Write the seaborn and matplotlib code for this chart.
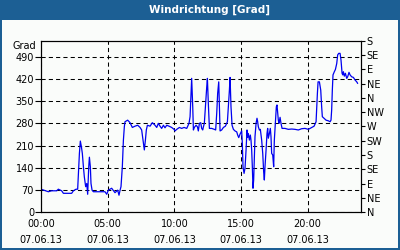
import matplotlib
matplotlib.use("Agg")
import matplotlib.pyplot as plt
import seaborn as sns
import pandas as pd
from matplotlib.patches import Rectangle
from matplotlib.ticker import MultipleLocator

sns.set_style("white")
plt.rcParams['font.family'] = ['DejaVu Sans']

# ---- data (hours since 00:00 on 07.06.13, wind direction in degrees) ----
hours_a = [0.0, 0.55, 0.8, 1.18, 1.3, 1.55, 1.68, 2.3, 2.43, 2.63, 2.75, 2.88, 2.95, 3.03, 3.1,
           3.18, 3.25, 3.35, 3.43, 3.5, 3.58, 3.63, 3.7, 3.75, 3.83, 3.93, 4.43, 4.8, 4.93]
dir_a = [72, 64, 67, 67, 72, 67, 59, 59, 67, 72, 72, 185, 224, 206, 185,
         143, 111, 80, 90, 56, 143, 173, 143, 90, 69, 64, 64, 64, 56]

hours_b = [5.05, 5.3, 5.55, 5.75, 5.85, 5.93, 6.0, 6.1, 6.18, 6.25, 6.3, 6.5, 6.68, 6.85, 7.05,
           7.25, 7.43, 7.55, 7.65, 7.75, 7.83, 7.9, 7.98, 8.18, 8.35, 8.55, 8.68, 8.8, 8.93, 9.05,
           9.18, 9.3, 9.43, 9.6, 9.8, 9.98]
dir_b = [69, 75, 61, 69, 53, 69, 80, 143, 227, 269, 285, 290, 282, 267, 271,
         274, 267, 259, 227, 196, 227, 259, 274, 271, 282, 274, 267, 280, 271, 264,
         274, 266, 274, 271, 267, 261]

hours_c = [10.05, 10.18, 10.38, 10.55, 10.73, 10.93, 11.1, 11.18, 11.25, 11.3, 11.38, 11.43, 11.5,
           11.63, 11.73, 11.8, 11.88, 11.98, 12.05, 12.13, 12.18, 12.25, 12.33, 12.43, 12.48, 12.55,
           12.63, 12.8, 13.0, 13.1, 13.18, 13.25, 13.33, 13.38, 13.43, 13.55, 13.68, 13.83, 13.98,
           14.05, 14.13, 14.18, 14.25, 14.33, 14.43, 14.55, 14.68, 14.75, 14.83, 14.93]
dir_c = [256, 261, 267, 264, 267, 264, 280, 301, 375, 422, 332, 259, 267,
         274, 269, 256, 280, 282, 264, 259, 269, 280, 332, 395, 422, 343,
         264, 264, 261, 259, 312, 375, 411, 332, 256, 259, 267, 271, 285,
         332, 385, 425, 332, 274, 261, 256, 253, 243, 235, 246]

hours_d = [15.05, 15.1, 15.15, 15.23, 15.3, 15.38, 15.45, 15.5, 15.55, 15.63, 15.7, 15.75, 15.8,
           15.85, 15.9, 15.95, 16.0, 16.05, 16.13, 16.2, 16.25, 16.3, 16.38, 16.45, 16.55, 16.63,
           16.7, 16.75, 16.8, 16.88, 16.95, 17.0, 17.05, 17.13, 17.2, 17.25, 17.3, 17.38, 17.45,
           17.5, 17.55, 17.6, 17.65, 17.7, 17.75, 17.8, 17.85, 17.93, 18.0, 18.08, 18.3, 18.55,
           18.8, 19.05, 19.3, 19.55, 19.8]
dir_d = [256, 217, 143, 122, 138, 196, 259, 236, 248, 227, 243, 227, 196,
         143, 75, 101, 175, 238, 280, 296, 285, 269, 259, 261, 227, 185,
         127, 101, 143, 196, 248, 264, 233, 248, 264, 238, 185, 180, 143,
         227, 261, 290, 332, 338, 312, 290, 280, 299, 280, 264, 264, 261,
         262, 261, 259, 263, 264]

hours_e = [20.05, 20.3, 20.48, 20.63, 20.68, 20.73, 20.78, 20.88, 20.98, 21.05, 21.1, 21.23, 21.38,
           21.55, 21.68, 21.75, 21.8, 21.85, 21.9, 22.0, 22.08, 22.18, 22.25, 22.33, 22.43, 22.5,
           22.58, 22.63, 22.68, 22.75, 22.83, 22.93, 23.0, 23.1, 23.18, 23.3, 23.43, 23.55, 23.68,
           23.75]
dir_e = [261, 267, 271, 285, 332, 375, 411, 411, 385, 332, 301, 296, 290,
         288, 285, 290, 322, 385, 433, 443, 450, 469, 496, 501, 501, 480,
         438, 433, 443, 429, 438, 422, 427, 441, 433, 427, 425, 417, 411,
         406]

x_ticks = [0, 5, 10, 15, 20]
x_tick_times = ["00:00", "05:00", "10:00", "15:00", "20:00"]
date_label = "07.06.13"
left_ticks = [0, 70, 140, 210, 280, 350, 420, 490]
right_ticks = [0, 45, 90, 135, 180, 225, 270, 315, 360, 405, 450, 495, 540]
compass = ["N", "NE", "E", "SE", "S", "SW", "W", "NW", "N", "NE", "E", "SE", "S"]
title = "Windrichtung [Grad]"
unit = "Grad"

hours = hours_a + hours_b + hours_c + hours_d + hours_e
wind_dir = dir_a + dir_b + dir_c + dir_d + dir_e
df = pd.DataFrame({"hour": hours, "dir": wind_dir})

# ---- figure ----
W, H = 400, 250
blue = '#1c5f94'
bg = '#fafcfa'
fig = plt.figure(figsize=(W / 100, H / 100), dpi=100, facecolor=blue)
fig.patches.append(Rectangle((2 / W, 2 / H), 396 / W, 228 / H, transform=fig.transFigure,
                             facecolor=bg, edgecolor='none', zorder=-10))
fig.text(209.5 / W, 1 - 10 / H, title, color='white', weight='bold',
         ha='center', va='center', fontsize=7.5)

ax = fig.add_axes([41 / W, 38 / H, 320 / W, 171 / H])
ax.patch.set_visible(False)
sns.lineplot(data=df, x="hour", y="dir", ax=ax, color='#0000f0', lw=0.9, estimator=None)

ax.set_xlim(0, 24)
ax.set_ylim(0, 540)
ax.set_xlabel("")
ax.set_ylabel("")
ax.set_xticks(x_ticks)
ax.set_xticklabels([f"{t}\n{date_label}" for t in x_tick_times], linespacing=1.7)
ax.xaxis.set_minor_locator(MultipleLocator(1))
ax.tick_params(axis='x', which='both', direction='in', length=3, width=0.8,
               labelsize=7, pad=5, colors='black')
ax.set_yticks(left_ticks)
ax.tick_params(axis='y', which='major', direction='out', length=4, width=0.8,
               labelsize=7, pad=1, colors='black')
ax.grid(True, which='major', color='black', ls=(0, (4, 3)), lw=0.75)
for s in ax.spines.values():
    s.set_color('black')
    s.set_linewidth(0.8)
ax.text(-0.015, (212 - 46.5) / 171, unit, transform=ax.transAxes, ha='right',
        va='center', fontsize=7, color='black')

ax2 = ax.twinx()
ax2.set_ylim(0, 540)
ax2.set_yticks(right_ticks)
ax2.set_yticklabels(compass)
ax2.tick_params(axis='y', direction='out', length=3, width=0.8, labelsize=7, pad=1,
                colors='black')
for s in ax2.spines.values():
    s.set_color('black')
    s.set_linewidth(0.8)

fig.savefig("out.png", dpi=100, facecolor=fig.get_facecolor())
